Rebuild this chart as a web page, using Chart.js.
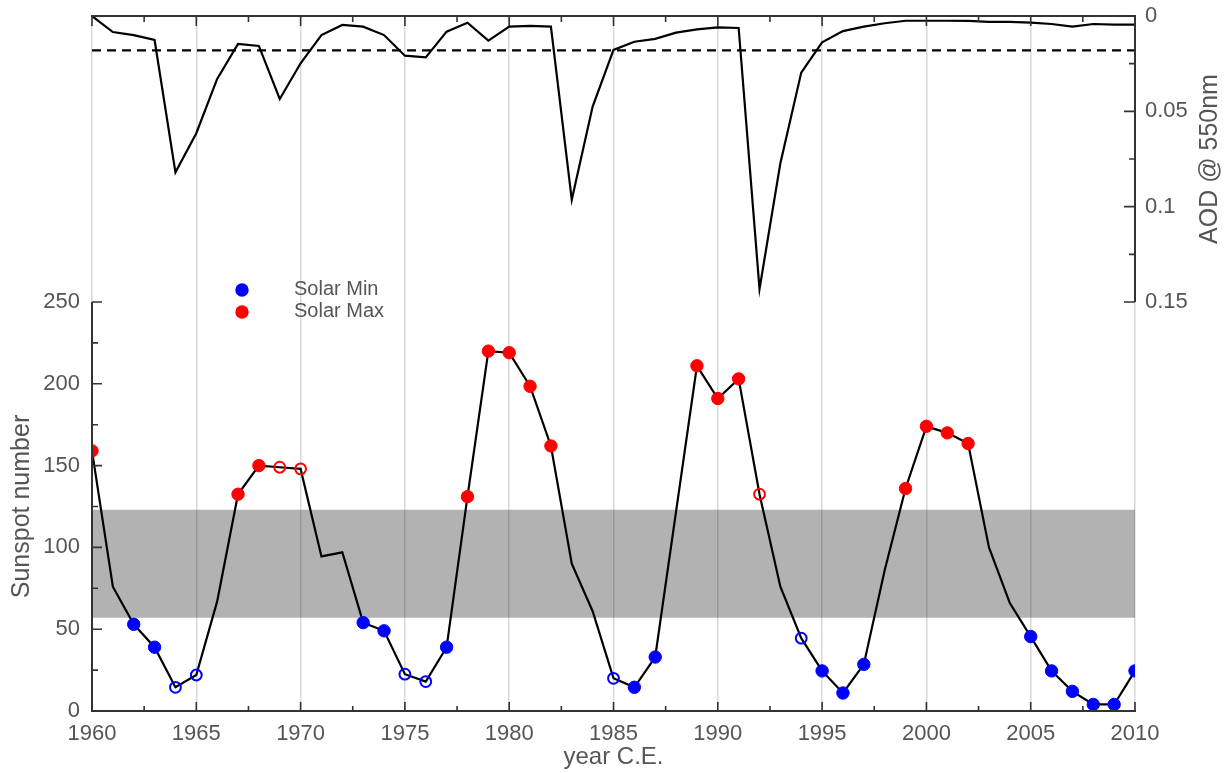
<!DOCTYPE html>
<html>
<head>
<meta charset="utf-8">
<title>Sunspot number and AOD 1960-2010</title>
<script src="https://cdn.jsdelivr.net/npm/chart.js@4.4.0/dist/chart.umd.min.js"></script>
<style>
    html, body { margin: 0; padding: 0; background: #fff; }
    canvas { display: block; }
</style>
</head>
<body>
<canvas id="chart" width="1232" height="773"></canvas>
<script>
const years = [
    1960, 1961, 1962, 1963, 1964, 1965, 1966, 1967, 1968, 1969,
    1970, 1971, 1972, 1973, 1974, 1975, 1976, 1977, 1978, 1979,
    1980, 1981, 1982, 1983, 1984, 1985, 1986, 1987, 1988, 1989,
    1990, 1991, 1992, 1993, 1994, 1995, 1996, 1997, 1998, 1999,
    2000, 2001, 2002, 2003, 2004, 2005, 2006, 2007, 2008, 2009,
    2010
];

const sunspots = [
    159, 76, 53, 39, 14.5, 22, 67, 132.5, 150, 149,
    148, 94.5, 97, 54, 49, 22.5, 18, 39, 131, 220,
    219, 198.5, 162, 90, 61, 20, 14.5, 33, 122, 211,
    191, 203, 132.5, 76, 44.5, 24.5, 11, 28.5, 86, 136,
    174, 170, 163.5, 100, 66, 45.5, 24.5, 12, 4, 4,
    24.5
];

const aod = [
    0, 0.0084, 0.010, 0.0126, 0.082, 0.0615, 0.033, 0.0147, 0.0157, 0.0435,
    0.0248, 0.010, 0.0047, 0.0056, 0.010, 0.0208, 0.0217, 0.0082, 0.0035, 0.0129,
    0.0056, 0.0052, 0.0056, 0.0964, 0.0475, 0.0178, 0.0135, 0.012, 0.0087, 0.007,
    0.006, 0.0063, 0.1432, 0.0772, 0.0297, 0.0138, 0.0079, 0.0056, 0.0038, 0.0025,
    0.0025, 0.0025, 0.0026, 0.0031, 0.0031, 0.0035, 0.0042, 0.0056, 0.0042, 0.0045,
    0.0045
];

// years marked as solar minimum / maximum (open = hollow marker)
const minFilled = [1962, 1963, 1973, 1974, 1977, 1986, 1987, 1995, 1996, 1997, 2005, 2006, 2007, 2008, 2009, 2010];
const minOpen = [1964, 1965, 1975, 1976, 1985, 1994];
const maxFilled = [1960, 1967, 1968, 1978, 1979, 1980, 1981, 1982, 1989, 1990, 1991, 1999, 2000, 2001, 2002];
const maxOpen = [1969, 1970, 1992];

const band = [57, 123];      // grey band, sunspot units
const aodThreshold = 0.018;  // dashed line
const xTicks = [1960, 1965, 1970, 1975, 1980, 1985, 1990, 1995, 2000, 2005, 2010];
const yTicks = [0, 50, 100, 150, 200, 250];
const aodTicks = [0, 0.05, 0.1, 0.15];

const BLUE = "#0000ff";
const RED = "#ff0000";
const TEXT = "#555";
const FONT = "'Liberation Sans', Arial, Helvetica, sans-serif";

const pick = list => list.map(yr => ({ x: yr, y: sunspots[years.indexOf(yr)] }));

function markers(list, color, open) {
    return {
        type: "line",
        data: pick(list),
        yAxisID: "y",
        showLine: false,
        order: 0,
        pointRadius: open ? 5.4 : 6.2,
        pointBorderWidth: open ? 2 : 1,
        pointBorderColor: color,
        pointBackgroundColor: open ? "rgba(0,0,0,0)" : color,
    };
}

// axis lines, inward ticks, titles, legend
const decorations = {
    id: "decorations",
    afterDatasetsDraw(c) {
        const { ctx, chartArea: a } = c;
        const { x, y, aod: r } = c.scales;
        ctx.save();
        ctx.strokeStyle = "#333";
        ctx.lineWidth = 2;
        ctx.beginPath();
        ctx.moveTo(a.left - 1, a.top); ctx.lineTo(a.right + 1, a.top);
        ctx.moveTo(a.left - 1, a.bottom); ctx.lineTo(a.right + 1, a.bottom);
        ctx.moveTo(a.left, y.getPixelForValue(250)); ctx.lineTo(a.left, a.bottom);
        ctx.moveTo(a.right, a.top); ctx.lineTo(a.right, r.getPixelForValue(0.15));
        ctx.stroke();

        ctx.lineWidth = 1.6;
        ctx.beginPath();
        for (let i = 0; i <= 20; i++) {
            const yr = 1960 + i * 2.5;
            const px = x.getPixelForValue(yr);
            const major = i % 2 === 0;
            ctx.moveTo(px, a.bottom); ctx.lineTo(px, a.bottom - (major ? 9 : 5));
            ctx.moveTo(px, a.top); ctx.lineTo(px, a.top + (major ? 10 : 6));
        }
        for (let i = 0; i <= 10; i++) {
            const py = y.getPixelForValue(i * 25);
            ctx.moveTo(a.left, py); ctx.lineTo(a.left + (i % 2 === 0 ? 10 : 6), py);
        }
        for (let i = 0; i <= 6; i++) {
            const py = r.getPixelForValue(i * 0.025);
            ctx.moveTo(a.right, py); ctx.lineTo(a.right - (i % 2 === 0 ? 11 : 6), py);
        }
        ctx.stroke();

        ctx.fillStyle = TEXT;
        ctx.textAlign = "center";
        ctx.textBaseline = "middle";
        ctx.font = `24px ${FONT}`;
        ctx.fillText("year C.E.", (a.left + a.right) / 2, 757);

        ctx.font = `25px ${FONT}`;
        ctx.save();
        ctx.translate(22, y.getPixelForValue(125));
        ctx.rotate(-Math.PI / 2);
        ctx.fillText("Sunspot number", 0, 0);
        ctx.restore();

        ctx.save();
        ctx.translate(1210, r.getPixelForValue(0.075));
        ctx.rotate(-Math.PI / 2);
        ctx.fillText("AOD @ 550nm", 0, 0);
        ctx.restore();

        // legend
        const items = [["Solar Min", BLUE, 290], ["Solar Max", RED, 312]];
        ctx.font = `20px ${FONT}`;
        ctx.textAlign = "left";
        items.forEach(([label, color, py]) => {
            ctx.fillStyle = color;
            ctx.beginPath();
            ctx.arc(242, py, 6.7, 0, Math.PI * 2);
            ctx.fill();
            ctx.fillStyle = TEXT;
            ctx.fillText(label, 294, py - 1);
        });
        ctx.restore();
    }
};

const tickFont = { family: FONT, size: 22 };

new Chart(document.getElementById("chart"), {
    type: "line",
    data: {
        datasets: [
            markers(maxFilled, RED, false),
            markers(maxOpen, RED, true),
            markers(minFilled, BLUE, false),
            markers(minOpen, BLUE, true),
            {
                data: years.map((yr, i) => ({ x: yr, y: sunspots[i] })),
                yAxisID: "y",
                borderColor: "#000",
                borderWidth: 2.2,
                pointRadius: 0,
                order: 1,
            },
            {
                data: years.map((yr, i) => ({ x: yr, y: aod[i] })),
                yAxisID: "aod",
                borderColor: "#000",
                borderWidth: 2.2,
                pointRadius: 0,
                order: 2,
            },
            {
                data: [{ x: 1960, y: aodThreshold }, { x: 2010, y: aodThreshold }],
                yAxisID: "aod",
                borderColor: "#000",
                borderWidth: 2.2,
                borderDash: [9, 6],
                pointRadius: 0,
                order: 2,
            },
            {
                data: [{ x: 1960, y: band[1] }, { x: 2010, y: band[1] }],
                yAxisID: "y",
                borderWidth: 0,
                pointRadius: 0,
                backgroundColor: "rgba(0,0,0,0.3)",
                fill: { value: band[0] },
                order: 3,
            },
        ],
    },
    options: {
        responsive: false,
        animation: false,
        layout: { padding: { top: 16, left: 0, right: 0, bottom: 0 } },
        plugins: { legend: { display: false }, tooltip: { enabled: false } },
        scales: {
            x: {
                type: "linear",
                min: 1960,
                max: 2010,
                afterBuildTicks: s => { s.ticks = xTicks.map(v => ({ value: v })); },
                afterFit: s => { s.height = 62; s.paddingLeft = 0; s.paddingRight = 0; },
                border: { display: false },
                grid: { color: "#d8d8d8", lineWidth: 1.5, drawTicks: false },
                ticks: {
                    color: TEXT, font: tickFont, padding: 10, maxRotation: 0, autoSkip: false,
                    callback: v => String(v),
                },
            },
            y: {
                position: "left",
                min: 0,
                max: 250 * 695 / 409,
                afterBuildTicks: s => { s.ticks = yTicks.map(v => ({ value: v })); },
                afterFit: s => { s.width = 92; s.paddingTop = 0; s.paddingBottom = 0; },
                border: { display: false },
                grid: { display: false, drawTicks: false },
                ticks: { color: TEXT, font: tickFont, padding: 12 },
            },
            aod: {
                position: "right",
                reverse: true,
                min: 0,
                max: 0.15 * 695 / 286,
                afterBuildTicks: s => { s.ticks = aodTicks.map(v => ({ value: v })); },
                afterFit: s => { s.width = 97; s.paddingTop = 0; s.paddingBottom = 0; },
                border: { display: false },
                grid: { display: false, drawTicks: false },
                ticks: { color: TEXT, font: tickFont, padding: 10, callback: v => String(v) },
            },
        },
    },
    plugins: [decorations],
});
</script>
</body>
</html>
